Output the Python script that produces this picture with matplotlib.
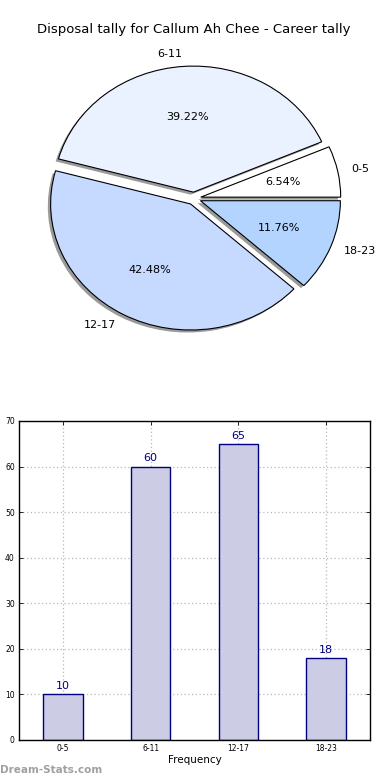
import numpy as np
import matplotlib
matplotlib.use("Agg")
import matplotlib.pyplot as plt
from matplotlib.patches import Wedge

# data
categories = ['0-5', '6-11', '12-17', '18-23']
counts = [10, 60, 65, 18]
pie_colors = ['#FFFFFF', '#EAF1FF', '#C6D9FF', '#B3D4FF']
title = "Disposal tally for Callum Ah Chee - Career tally"

plt.rcParams['font.family'] = 'DejaVu Sans'

fig = plt.figure(figsize=(3.9, 7.8), dpi=100)

# =========================
# PIE
# =========================
ax1 = fig.add_axes([0.0487, 0.5436, 0.897, 0.404])
wedges, texts, autotexts = ax1.pie(
    counts, labels=categories, colors=pie_colors, explode=[0.05]*4,
    autopct='%1.2f%%', shadow=False, startangle=0, counterclock=True,
    labeldistance=1.1, pctdistance=0.6,
    wedgeprops=dict(edgecolor='black', linewidth=0.8, zorder=3),
    textprops=dict(fontsize=8))
# grey shadows, offset down-left
for w in wedges:
    cx, cy = w.center
    sh = Wedge((cx - 0.02, cy - 0.02), w.r, w.theta1, w.theta2,
               facecolor='#9a9a9a', edgecolor='none', zorder=2)
    ax1.add_patch(sh)
ax1.set_aspect('auto')
ax1.set_xlim(-1.25, 1.25)
ax1.set_ylim(-1.25, 1.25)
ax1.axis('off')
ax1.set_title(title, fontsize=9.5, pad=6)

# =========================
# BAR
# =========================
ax2 = fig.add_axes([0.0487, 0.0513, 0.9, 0.4090])
x = np.arange(len(categories))
bars = ax2.bar(x, counts, width=0.45, color='#CCCCE5', edgecolor='#000080',
               linewidth=1.0, zorder=2)
for xi, c in zip(x, counts):
    ax2.text(xi, c + 0.7, str(c), ha='center', va='bottom',
             color='#000080', fontsize=8)
ax2.set_xlim(-0.5, 3.5)
ax2.set_ylim(0, 70)
ax2.set_xticks(x)
ax2.set_xticklabels(categories)
ax2.set_yticks(np.arange(0, 71, 10))
ax2.tick_params(direction='in', top=True, right=True, labelsize=5.5,
                length=3, width=0.6, pad=3)
ax2.grid(True, linestyle=(0, (1, 2)), color='#b8b8b8', linewidth=0.9, zorder=0)
ax2.set_axisbelow(True)
for s in ax2.spines.values():
    s.set_linewidth(1.0)
ax2.set_xlabel('Frequency', fontsize=7.5, labelpad=1)

fig.text(0.0, 0.006, 'Dream-Stats.com', color='#a0a0a0', fontsize=7.5,
         fontweight='bold', ha='left', va='bottom')

fig.savefig('out.png', dpi=100)
